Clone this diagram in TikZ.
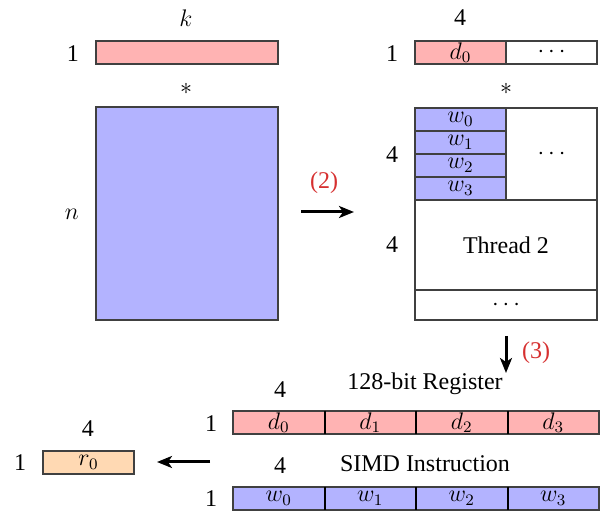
\documentclass[tikz,border=0pt,12pt]{standalone}
\usepackage{fontspec}
\setmainfont{Liberation Serif}
\usetikzlibrary{arrows.meta}
\definecolor{pinkc}{HTML}{FFB3B3}
\definecolor{bluec}{HTML}{B3B3FF}
\definecolor{orangec}{HTML}{FFD9B3}
\definecolor{redlab}{HTML}{D63030}
\newcommand{\mydots}{$\cdots$}
\tikzset{
  cell/.style={draw=black!75, line width=0.6pt, inner sep=0pt, outer sep=0pt, rectangle},
  lab/.style={inner sep=0pt, font=\fontsize{12}{14}\selectfont},
  bigarrow/.style={-{Stealth[length=7.5pt,width=6pt,inset=2pt]}, line width=1.5pt, black},
  steplab/.style={inner sep=0pt, text=redlab, font=\fontsize{12}{14}\selectfont},
  divider/.style={line width=1pt, black},
}
\begin{document}
\begin{tikzpicture}[x=0.5pt,y=-0.5pt]
\useasboundingbox (0,0) rectangle (601,513);
% left side
\node[lab] (k) at (186,18) {$k$};
\node[lab] (oneA) at (73,54) {1};
\node[cell, fill=pinkc, minimum width=91pt, minimum height=11.5pt] (vecA) at (187,52.5) {};
\node[lab] (starA) at (186,89) {$*$};
\node[cell, fill=bluec, minimum width=91pt, minimum height=106.5pt] (matA) at (187,213.5) {};
\node[lab] (n) at (72,214) {$n$};
% arrow 2
\coordinate (a2s) at (301,212);
\coordinate (a2e) at (354,212);
\draw[bigarrow] (a2s) -- (a2e);
\node[steplab] (s2) at (324,183) {(2)};
% right side top
\node[lab] (fourB) at (460,18) {4};
\node[lab] (oneB) at (392,54) {1};
\node[cell, fill=pinkc, minimum width=45.5pt, minimum height=11.5pt] (d0B) at (460.5,52.5) {$d_0$};
\node[cell, fill=white, minimum width=45.5pt, minimum height=11.5pt] (dotsB) at (551.5,52.5) {\mydots};
\node[lab] (starB) at (506,89) {$*$};
% matrix right
\node[cell, fill=bluec, minimum width=45.5pt, minimum height=11.5pt] (w0) at (460.5,119.5) {$w_0$};
\node[cell, fill=bluec, minimum width=45.5pt, minimum height=11.5pt] (w1) at (460.5,142.5) {$w_1$};
\node[cell, fill=bluec, minimum width=45.5pt, minimum height=11.5pt] (w2) at (460.5,165.5) {$w_2$};
\node[cell, fill=bluec, minimum width=45.5pt, minimum height=11.5pt] (w3) at (460.5,188.5) {$w_3$};
\node[cell, fill=white, minimum width=45.5pt, minimum height=46pt] (wdots) at (551.5,154) {\mydots};
\node[cell, fill=white, minimum width=91pt, minimum height=45pt, font=\fontsize{12}{14}\selectfont] (thread) at (506,245) {Thread 2};
\node[cell, fill=white, minimum width=91pt, minimum height=15pt] (rdots) at (506,305) {\mydots};
\node[lab] (fourC) at (392,155) {4};
\node[lab] (fourD) at (392,245) {4};
% arrow 3
\coordinate (a3s) at (506,336);
\coordinate (a3e) at (506,373);
\draw[bigarrow] (a3s) -- (a3e);
\node[steplab] (s3) at (536,353) {(3)};
% register
\node[lab] (fourE) at (280,390) {4};
\node[lab] (reg) at (425,384) {128-bit Register};
\node[lab] (oneE) at (211,424) {1};
\node[cell, fill=pinkc, minimum width=45.75pt, minimum height=11.5pt] (d0) at (278.75,422.5) {$d_0$};
\node[cell, fill=pinkc, minimum width=45.75pt, minimum height=11.5pt] (d1) at (370.25,422.5) {$d_1$};
\node[cell, fill=pinkc, minimum width=45.75pt, minimum height=11.5pt] (d2) at (461.75,422.5) {$d_2$};
\node[cell, fill=pinkc, minimum width=45.75pt, minimum height=11.5pt] (d3) at (553.25,422.5) {$d_3$};
\draw[divider] (d0.north east) -- (d0.south east);
\draw[divider] (d1.north east) -- (d1.south east);
\draw[divider] (d2.north east) -- (d2.south east);
\node[lab] (fourF) at (280,466) {4};
\node[lab] (simd) at (425,464) {SIMD Instruction};
\node[lab] (oneF) at (211,499) {1};
\node[cell, fill=bluec, minimum width=45.75pt, minimum height=11.5pt] (v0) at (278.75,498.5) {$w_0$};
\node[cell, fill=bluec, minimum width=45.75pt, minimum height=11.5pt] (v1) at (370.25,498.5) {$w_1$};
\node[cell, fill=bluec, minimum width=45.75pt, minimum height=11.5pt] (v2) at (461.75,498.5) {$w_2$};
\node[cell, fill=bluec, minimum width=45.75pt, minimum height=11.5pt] (v3) at (553.25,498.5) {$w_3$};
\draw[divider] (v0.north east) -- (v0.south east);
\draw[divider] (v1.north east) -- (v1.south east);
\draw[divider] (v2.north east) -- (v2.south east);
% result
\node[lab] (fourG) at (88,429) {4};
\node[lab] (oneG) at (20,463) {1};
\node[cell, fill=orangec, minimum width=45.5pt, minimum height=11.5pt] (r0) at (88.5,462.5) {$r_0$};
\coordinate (a4s) at (210,462);
\coordinate (a4e) at (157,462);
\draw[bigarrow] (a4s) -- (a4e);
\end{tikzpicture}
\end{document}
